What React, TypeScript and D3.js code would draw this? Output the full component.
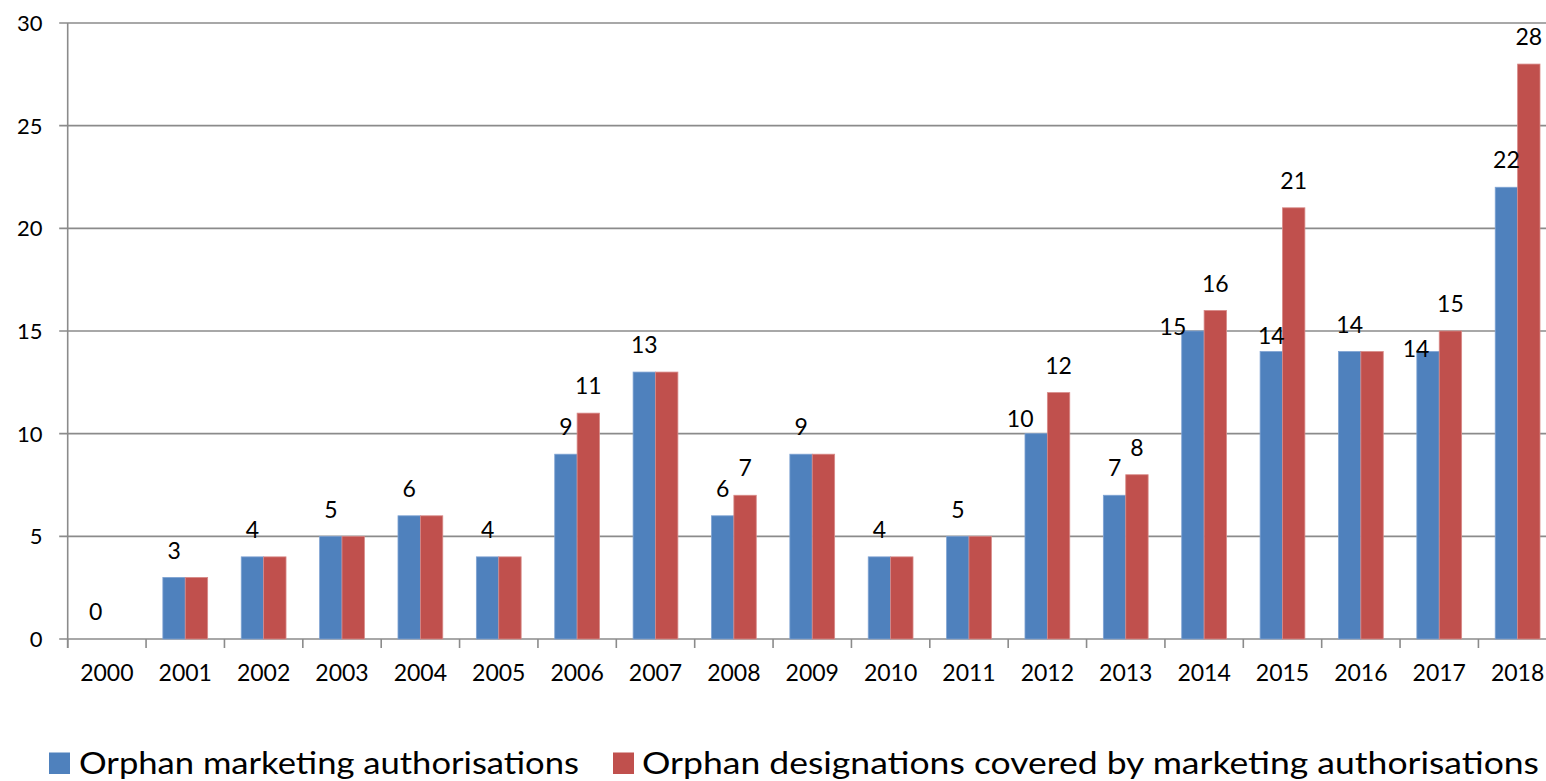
import React from "react";
import * as d3 from "d3";

const years = ["2000","2001","2002","2003","2004","2005","2006","2007","2008","2009","2010","2011","2012","2013","2014","2015","2016","2017","2018"];
const authorisations = [0,3,4,5,6,4,9,13,6,9,4,5,10,7,15,14,14,14,22];
const designations = [0,3,4,5,6,4,11,13,7,9,4,5,12,8,16,21,14,15,28];
const yTicks = [0,5,10,15,20,25,30];
const seriesNames = ["Orphan marketing authorisations", "Orphan designations covered by marketing authorisations"];
const seriesColors = ["#4F81BD", "#C0504D"];
const seriesStroke = ["#7fa3d3", "#d88a88"];

// manual label nudges (style) for the first series, by category index
const labelNudge: Record<number, [number, number]> = {
  12: [-16, 12],
  14: [-20, 23],
  15: [0, 11],
  17: [-12, 24],
};

const W = 1546, H = 781;
const left = 67.7, right = 1556.8, top = 23, bottom = 639;
const FONT = "Lato, 'Open Sans', sans-serif";
const GRID = "#8b8b8b";

export default function App() {
  const x = d3.scaleBand<string>().domain(years).range([left, right]).paddingInner(1.5 / 3.5).paddingOuter(0.75 / 3.5);
  const xs = d3.scaleBand<number>().domain([0, 1]).range([0, x.bandwidth()]);
  const y = d3.scaleLinear().domain([0, 30]).range([bottom, top]);
  const step = x.step();
  const boundaries = d3.range(years.length + 1).map((i) => left + i * step);
  const series = [authorisations, designations];

  return (
    <svg width={W} height={H} style={{ position: "fixed", left: 0, top: 0, background: "#fff" }} fontFamily={FONT}>
      <rect x={0} y={0} width={W} height={H} fill="#fff" />
      {/* gridlines */}
      {yTicks.map((t) => (
        <line key={"g" + t} x1={left - 8.5} x2={W} y1={y(t)} y2={y(t)} stroke={GRID} strokeWidth={1.6} />
      ))}
      {/* y axis */}
      <line x1={left} x2={left} y1={top} y2={bottom + 9} stroke={GRID} strokeWidth={1.6} />
      {/* x ticks */}
      {boundaries.map((b, i) => (
        <line key={"xt" + i} x1={b} x2={b} y1={bottom} y2={bottom + 9} stroke={GRID} strokeWidth={1.6} />
      ))}
      {/* y labels */}
      {yTicks.map((t) => (
        <text key={"yl" + t} x={42.5} y={y(t) + 7.9} textAnchor="end" fontSize={22} fill="#000">{t}</text>
      ))}
      {/* x labels */}
      {years.map((yr) => (
        <text key={"xl" + yr} x={(x(yr) as number) + x.bandwidth() / 2} y={680.5} textAnchor="middle" fontSize={23} fill="#000">{yr}</text>
      ))}
      {/* bars */}
      {series.map((vals, s) =>
        vals.map((v, i) => {
          const bx = (x(years[i]) as number) + (xs(s) as number);
          return (
            <rect key={"b" + s + "-" + i} x={bx} y={y(v)} width={xs.bandwidth()} height={bottom - y(v)}
              fill={seriesColors[s]} stroke={v > 0 ? seriesStroke[s] : "none"} strokeWidth={0.8} />
          );
        })
      )}
      {/* data labels */}
      {series.map((vals, s) =>
        vals.map((v, i) => {
          if (s === 1 && v === authorisations[i]) return null;
          const cx = (x(years[i]) as number) + (xs(s) as number) + xs.bandwidth() / 2;
          const nudge = s === 0 && labelNudge[i] ? labelNudge[i] : [0, 0];
          return (
            <text key={"l" + s + "-" + i} x={cx + nudge[0]} y={y(v) - 18.8 + nudge[1]} textAnchor="middle" fontSize={23} fill="#000">{v}</text>
          );
        })
      )}
      {/* legend */}
      <rect x={49} y={752.5} width={21} height={21.5} fill={seriesColors[0]} />
      <text x={79} y={774} fontSize={31.5} fill="#000" textLength={500} lengthAdjust="spacingAndGlyphs">{seriesNames[0]}</text>
      <rect x={613} y={752.5} width={21} height={21.5} fill={seriesColors[1]} />
      <text x={642} y={774} fontSize={31.5} fill="#000" textLength={897} lengthAdjust="spacingAndGlyphs">{seriesNames[1]}</text>
    </svg>
  );
}
